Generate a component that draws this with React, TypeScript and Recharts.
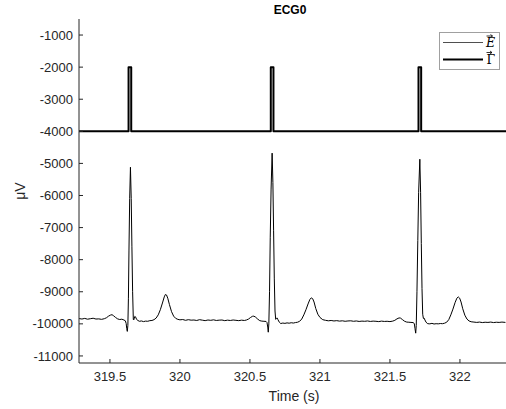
import React from 'react';
import { LineChart, Line, XAxis, YAxis, Legend } from 'recharts';

const xTicks = [319.5, 320, 320.5, 321, 321.5, 322];
const yTicks = [-11000, -10000, -9000, -8000, -7000, -6000, -5000, -4000, -3000, -2000, -1000];
const xDomain: [number, number] = [319.279, 322.329];
const yDomain: [number, number] = [-11220, -500];

const titleText = 'ECG0';
const xLabelText = 'Time (s)';
const yLabelText = 'μV';

// Γ: pulse train
const pulseOn = [319.633, 320.649, 321.704];
const pulseOff = [319.652, 320.668, 321.723];
const gammaLow = -4000;
const gammaHigh = -2000;

// E: ECG samples [time (s), µV]
const ecgSamples: [number, number][] = [
  [319.28, -9835], [319.30, -9850], [319.32, -9830], [319.34, -9855], [319.36, -9840],
  [319.38, -9825], [319.40, -9850], [319.42, -9845], [319.44, -9860], [319.46, -9840],
  [319.475, -9810], [319.49, -9760], [319.505, -9725], [319.515, -9715], [319.525, -9745],
  [319.54, -9800], [319.555, -9845], [319.57, -9865], [319.585, -9855], [319.60, -9880],
  [319.61, -9905], [319.616, -9990], [319.620, -10150], [319.624, -10235], [319.628, -10050],
  [319.632, -9200], [319.636, -7700], [319.641, -6100], [319.6465, -5120], [319.652, -6100],
  [319.657, -7600], [319.662, -9000], [319.667, -9860], [319.670, -9880], [319.674, -9820],
  [319.678, -9765], [319.684, -9790], [319.69, -9860], [319.70, -9895], [319.71, -9920],
  [319.725, -9910], [319.74, -9930], [319.755, -9915], [319.77, -9920], [319.785, -9900],
  [319.80, -9895], [319.815, -9870], [319.83, -9820], [319.845, -9720], [319.86, -9560],
  [319.875, -9350], [319.888, -9160], [319.896, -9085], [319.904, -9100], [319.913, -9200],
  [319.925, -9400], [319.94, -9620], [319.955, -9760], [319.97, -9830], [319.985, -9860],
  [320.00, -9875], [320.02, -9865], [320.04, -9890], [320.06, -9870], [320.08, -9885],
  [320.10, -9880], [320.12, -9895], [320.14, -9870], [320.16, -9885], [320.18, -9900],
  [320.20, -9880], [320.22, -9890], [320.24, -9875], [320.26, -9895], [320.28, -9885],
  [320.30, -9880], [320.32, -9900], [320.34, -9885], [320.36, -9895], [320.38, -9880],
  [320.40, -9890], [320.42, -9900], [320.44, -9885], [320.46, -9895], [320.475, -9880],
  [320.49, -9850], [320.505, -9800], [320.518, -9765], [320.528, -9760], [320.54, -9790],
  [320.555, -9850], [320.57, -9900], [320.585, -9915], [320.60, -9920], [320.615, -9925],
  [320.622, -9960], [320.627, -10100], [320.631, -10260], [320.635, -10000], [320.640, -9000],
  [320.645, -7300], [320.651, -5800], [320.6585, -4680], [320.664, -5600], [320.669, -7100],
  [320.674, -8600], [320.679, -9600], [320.684, -9860], [320.689, -9830], [320.694, -9815],
  [320.70, -9870], [320.71, -9950], [320.72, -9990], [320.735, -9975], [320.75, -9985],
  [320.765, -9970], [320.78, -9980], [320.795, -9965], [320.81, -9975], [320.825, -9960],
  [320.84, -9950], [320.855, -9920], [320.87, -9850], [320.885, -9720], [320.90, -9560],
  [320.915, -9380], [320.928, -9240], [320.938, -9190], [320.948, -9215], [320.958, -9320],
  [320.97, -9520], [320.985, -9700], [321.00, -9800], [321.02, -9870], [321.04, -9890],
  [321.06, -9905], [321.08, -9895], [321.10, -9910], [321.12, -9900], [321.14, -9915],
  [321.16, -9905], [321.18, -9920], [321.20, -9910], [321.22, -9905], [321.24, -9920],
  [321.26, -9910], [321.28, -9925], [321.30, -9915], [321.32, -9920], [321.34, -9910],
  [321.36, -9925], [321.38, -9915], [321.40, -9920], [321.42, -9930], [321.44, -9915],
  [321.46, -9925], [321.48, -9920], [321.50, -9930], [321.52, -9915], [321.535, -9890],
  [321.55, -9845], [321.565, -9815], [321.575, -9820], [321.59, -9870], [321.605, -9920],
  [321.62, -9945], [321.635, -9950], [321.65, -9955], [321.665, -9960], [321.674, -9990],
  [321.679, -10150], [321.684, -10290], [321.688, -10050], [321.693, -9000], [321.699, -7400],
  [321.705, -5900], [321.7135, -4870], [321.719, -5900], [321.724, -7500], [321.729, -8900],
  [321.734, -9700], [321.739, -9830], [321.743, -9815], [321.750, -9880], [321.758, -9950],
  [321.77, -9995], [321.785, -10000], [321.80, -9985], [321.815, -10005], [321.83, -9995],
  [321.845, -10000], [321.86, -9990], [321.875, -9995], [321.89, -9980], [321.905, -9950],
  [321.92, -9870], [321.935, -9720], [321.95, -9540], [321.965, -9340], [321.978, -9200],
  [321.988, -9160], [321.998, -9200], [322.008, -9320], [322.02, -9530], [322.035, -9730],
  [322.05, -9850], [322.065, -9910], [322.08, -9935], [322.10, -9945], [322.12, -9955],
  [322.14, -9945], [322.16, -9960], [322.18, -9950], [322.20, -9955], [322.22, -9945],
  [322.24, -9960], [322.26, -9950], [322.28, -9955], [322.30, -9945], [322.325, -9955],
];

const ecgData = ecgSamples.map(([t, v]) => ({ t, v }));

const gammaData: { t: number; v: number }[] = [{ t: xDomain[0], v: gammaLow }];
pulseOn.forEach((on, i) => {
  gammaData.push(
    { t: on, v: gammaLow },
    { t: on, v: gammaHigh },
    { t: pulseOff[i], v: gammaHigh },
    { t: pulseOff[i], v: gammaLow },
  );
});
gammaData.push({ t: xDomain[1], v: gammaLow });

const FONT = '"Liberation Sans", Arial, Helvetica, sans-serif';
const AX = '#262626';

const YTick = (props: any) => {
  const { x, y, payload } = props;
  return (
    <g>
      <line x1={x + 6} x2={x + 10} y1={y} y2={y} stroke={AX} strokeWidth={1} />
      <text x={x} y={y} dy="0.355em" textAnchor="end" fontSize={13} fontFamily={FONT} fill={AX}>
        {payload.value}
      </text>
    </g>
  );
};

const XTick = (props: any) => {
  const { x, y, payload } = props;
  return (
    <g>
      <line x1={x} x2={x} y1={y - 9} y2={y - 13} stroke={AX} strokeWidth={1} />
      <text x={x} y={y} dy="0.71em" textAnchor="middle" fontSize={13} fontFamily={FONT} fill={AX}>
        {payload.value}
      </text>
    </g>
  );
};

const Arrow = ({ x, y, w }: { x: number; y: number; w: number }) => (
  <g stroke="#000" strokeWidth={0.8} fill="none">
    <line x1={x} x2={x + w} y1={y} y2={y} />
    <polyline points={`${x + w - 2},${y - 1.5} ${x + w},${y} ${x + w - 2},${y + 1.5}`} />
  </g>
);

const LegendBox = () => (
  <svg width={62} height={39} style={{ display: 'block' }}>
    <rect x={0.5} y={0.5} width={60} height={37} fill="#fff" stroke="#a0a0a0" strokeWidth={1} />
    <line x1={4} x2={44} y1={10.5} y2={10.5} stroke="#222" strokeWidth={0.8} />
    <Arrow x={47.5} y={4} w={6} />
    <text x={47} y={15} fontSize={12.5} fontStyle="italic" fontFamily='"DejaVu Serif", "Liberation Serif", serif' fill="#000">
      E
    </text>
    <line x1={4} x2={44} y1={27.5} y2={27.5} stroke="#000" strokeWidth={2} />
    <Arrow x={47.5} y={20.5} w={5.5} />
    <text x={47.5} y={32} fontSize={12.5} fontFamily='"DejaVu Serif", "Liberation Serif", serif' fill="#000">
      Γ
    </text>
  </svg>
);

export default function App() {
  return (
    <div style={{ position: 'absolute', left: 0, top: 0, width: 506, height: 409, background: '#fff' }}>
      <LineChart width={506} height={409} margin={{ top: 19, right: 0, bottom: 16, left: 0 }}>
        <XAxis
          dataKey="t"
          type="number"
          domain={xDomain}
          ticks={xTicks}
          allowDataOverflow
          height={30}
          tickSize={0}
          tickMargin={9}
          tickLine={false}
          tick={<XTick />}
          axisLine={{ stroke: AX, strokeWidth: 1 }}
          interval={0}
        />
        <YAxis
          type="number"
          domain={yDomain}
          ticks={yTicks}
          allowDataOverflow
          width={79}
          tickSize={0}
          tickMargin={6}
          tickLine={false}
          tick={<YTick />}
          axisLine={{ stroke: AX, strokeWidth: 1 }}
          interval={0}
        />
        <Legend
          layout="vertical"
          align="center"
          verticalAlign="middle"
          content={<LegendBox />}
          wrapperStyle={{ position: 'absolute', left: 439, top: 32, width: 62, height: 39 }}
        />
        <Line
          data={ecgData}
          dataKey="v"
          name="E"
          type="linear"
          stroke="#000"
          strokeWidth={1}
          dot={false}
          activeDot={false}
          isAnimationActive={false}
        />
        <Line
          data={gammaData}
          dataKey="v"
          name="Γ"
          type="linear"
          stroke="#000"
          strokeWidth={2}
          strokeLinejoin="round"
          dot={false}
          activeDot={false}
          isAnimationActive={false}
        />
      </LineChart>
      <svg width={506} height={409} style={{ position: 'absolute', left: 0, top: 0, pointerEvents: 'none' }}>
        <text x={290} y={14} textAnchor="middle" fontSize={12} fontWeight="bold" fontFamily={FONT} fill="#000">
          {titleText}
        </text>
        <text x={294} y={401} textAnchor="middle" fontSize={14} fontFamily={FONT} fill={AX}>
          {xLabelText}
        </text>
        <text
          x={25}
          y={191}
          textAnchor="middle"
          fontSize={14}
          fontFamily={FONT}
          fill={AX}
          transform="rotate(-90 25 191)"
        >
          {yLabelText}
        </text>
      </svg>
    </div>
  );
}
